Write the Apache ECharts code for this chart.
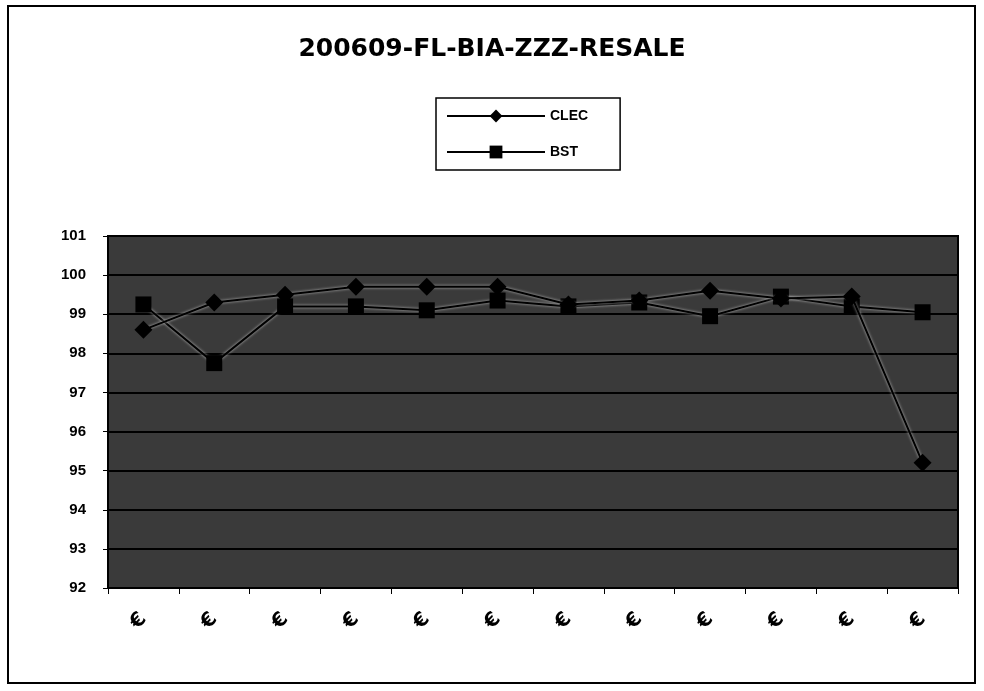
<!DOCTYPE html>
<html>
<head>
<meta charset="utf-8">
<script src="https://cdn.jsdelivr.net/npm/echarts@6/dist/echarts.min.js"></script>
<style>html,body{margin:0;padding:0;background:#fff}#c{width:984px;height:691px}</style>
</head>
<body>
<div id="c"></div>
<script>
const titleText = '200609-FL-BIA-ZZZ-RESALE';
const categories = ['€','€','€','€','€','€','€','€','€','€','€','€'];
const clec = [98.6, 99.3, 99.5, 99.7, 99.7, 99.7, 99.25, 99.35, 99.6, 99.4, 99.45, 95.2];
const bst  = [99.25, 97.75, 99.2, 99.2, 99.1, 99.35, 99.2, 99.3, 98.95, 99.45, 99.2, 99.05];
const yTicks = [92, 101, 1];

const chart = echarts.init(document.getElementById('c'));
const lineStyle = {color:'#000', width:2, shadowColor:'rgba(255,255,255,0.7)', shadowBlur:3};
chart.setOption({
  backgroundColor:'#fff',
  animation:false,
  title:{text:titleText, left:'center', top:32,
    textStyle:{fontFamily:'DejaVu Sans', fontWeight:'bold', fontSize:25, color:'#000'}},
  legend:{
    orient:'vertical', left:436, top:98, itemGap:22, itemWidth:98, itemHeight:16,
    backgroundColor:'#fff', borderColor:'#000', borderWidth:1.5, padding:[11,32,11,10],
    textStyle:{fontFamily:'Liberation Sans', fontWeight:'bold', fontSize:14, color:'#000'},
    data:['CLEC','BST']
  },
  graphic:[{type:'rect', shape:{x:8,y:6,width:967,height:677},
    style:{fill:'none', stroke:'#000', lineWidth:2}, silent:true}],
  grid:{left:108, right:26, top:236, bottom:103, show:true,
    backgroundColor:'#3a3a3a', borderColor:'#000', borderWidth:2},
  xAxis:{type:'category', data:categories, boundaryGap:true,
    axisLine:{lineStyle:{color:'#000', width:2}},
    axisTick:{show:true, length:6, lineStyle:{color:'#000'}},
    axisLabel:{rotate:45, margin:28, fontSize:20, fontWeight:'bold', color:'#000', fontFamily:'DejaVu Sans'}},
  yAxis:{type:'value', min:yTicks[0], max:yTicks[1], interval:yTicks[2],
    axisLine:{show:true, lineStyle:{color:'#000', width:2}},
    axisTick:{show:true, length:5, lineStyle:{color:'#000'}},
    splitLine:{lineStyle:{color:'#000', width:2}},
    axisLabel:{fontFamily:'Liberation Sans', fontWeight:'bold', fontSize:15, color:'#000', margin:22}},
  series:[
    {name:'CLEC', type:'line', data:clec, symbol:'diamond', symbolSize:18,
      itemStyle:{color:'#000'}, lineStyle:lineStyle, z:3},
    {name:'BST', type:'line', data:bst, symbol:'rect', symbolSize:16,
      itemStyle:{color:'#000'}, lineStyle:lineStyle, z:2}
  ]
});
</script>
</body>
</html>
